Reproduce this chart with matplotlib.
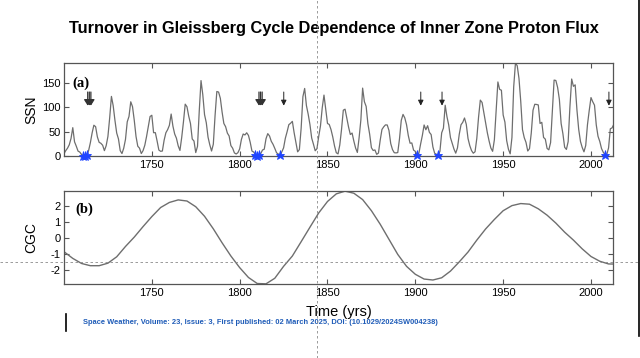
import matplotlib
matplotlib.use("Agg")
import matplotlib.pyplot as plt
from matplotlib.lines import Line2D

plt.rcParams['font.family'] = ['Liberation Sans', 'DejaVu Sans']
plt.rcParams['axes.unicode_minus'] = False

# ---------------- data ----------------
ssn_start_year = 1700
ssn_values = [
    5.0, 11.0, 16.0, 23.0, 36.0, 58.0, 29.0, 20.0, 10.0, 8.0,
    3.0, 0.0, 0.0, 2.0, 11.0, 27.0, 47.0, 63.0, 60.0, 39.0,
    28.0, 26.0, 22.0, 11.0, 21.0, 40.0, 78.0, 122.0, 103.0, 73.0,
    47.0, 35.0, 11.0, 5.0, 16.0, 34.0, 70.0, 81.0, 111.0, 101.0,
    73.0, 40.0, 20.0, 16.0, 5.0, 11.0, 22.0, 40.0, 60.0, 80.9,
    83.4, 47.7, 47.8, 30.7, 12.2, 9.6, 10.2, 32.4, 47.6, 54.0,
    62.9, 85.9, 61.2, 45.1, 36.4, 20.9, 11.4, 37.8, 69.8, 106.1,
    100.8, 81.6, 66.5, 34.8, 30.6, 7.0, 19.8, 92.5, 154.4, 125.9,
    84.8, 68.1, 38.5, 22.8, 10.2, 24.1, 82.9, 132.0, 130.9, 118.1,
    89.9, 66.6, 60.0, 46.9, 41.0, 21.3, 16.0, 6.4, 4.1, 6.8,
    14.5, 34.0, 45.0, 43.1, 47.5, 42.2, 28.1, 10.1, 8.1, 2.5,
    0.0, 1.4, 5.0, 12.2, 13.9, 35.4, 45.8, 41.0, 30.1, 23.9,
    15.6, 6.6, 4.0, 1.8, 8.5, 16.6, 36.3, 49.6, 64.2, 67.0,
    70.9, 47.8, 27.5, 8.5, 13.2, 56.9, 121.5, 138.3, 103.2, 85.7,
    64.6, 36.7, 24.2, 10.7, 15.0, 40.1, 61.5, 98.5, 124.7, 96.3,
    66.6, 64.5, 54.1, 39.0, 20.6, 6.7, 4.3, 22.7, 54.8, 93.8,
    95.8, 77.2, 59.1, 44.0, 47.0, 30.5, 16.3, 7.3, 37.6, 74.0,
    139.0, 111.2, 101.6, 66.2, 44.7, 17.0, 11.3, 12.4, 3.4, 6.0,
    32.3, 54.3, 59.7, 63.7, 63.5, 52.2, 25.4, 13.1, 6.8, 6.3,
    7.1, 35.6, 73.0, 85.1, 78.0, 64.0, 41.8, 26.2, 26.7, 12.1,
    9.5, 2.7, 5.0, 24.4, 42.0, 63.5, 53.8, 62.0, 48.5, 43.9,
    18.6, 5.7, 3.6, 1.4, 9.6, 47.4, 57.1, 103.9, 80.6, 63.6,
    37.6, 26.1, 14.2, 5.8, 16.7, 44.3, 63.9, 69.0, 77.8, 64.9,
    35.7, 21.2, 11.1, 5.7, 8.7, 36.1, 79.7, 114.4, 109.6, 88.8,
    67.8, 47.5, 30.6, 16.3, 9.6, 33.2, 92.6, 151.6, 136.3, 134.7,
    83.9, 69.4, 31.5, 13.9, 4.4, 38.0, 141.7, 190.2, 184.8, 159.0,
    112.3, 53.9, 37.6, 27.9, 10.2, 15.1, 47.0, 93.8, 105.9, 105.5,
    104.5, 66.6, 68.9, 38.0, 34.5, 15.5, 12.6, 27.5, 92.5, 155.4,
    154.6, 140.4, 115.9, 66.6, 45.9, 17.9, 13.4, 29.4, 100.2, 157.6,
    142.6, 145.7, 94.3, 54.6, 29.9, 17.5, 8.6, 21.5, 64.3, 93.3,
    119.6, 111.0, 104.0, 63.7, 40.4, 29.8, 15.2, 7.5, 2.9, 3.1,
    16.5, 55.7, 57.6, 64.7,
]
ssn_years = list(range(ssn_start_year, ssn_start_year + len(ssn_values)))

minimum_years = [1711, 1712, 1713, 1809, 1810, 1811, 1823, 1901, 1913, 2008]
triple_arrow_years = [1714.4, 1811.9]
single_arrow_years = [1825.1, 1903.1, 1915.2, 2010.2]

cgc_years = list(range(1700, 2020, 5))
cgc_values = [
    -0.88, -1.30, -1.62, -1.76, -1.76, -1.60, -1.20, -0.55, 0.04, 0.70,
    1.33, 1.90, 2.22, 2.38, 2.31, 1.95, 1.35, 0.56, -0.32, -1.15,
    -1.88, -2.50, -2.88, -2.90, -2.55, -1.80, -1.15, -0.25, 0.66, 1.56,
    2.28, 2.76, 2.93, 2.80, 2.40, 1.70, 0.85, -0.10, -1.05, -1.80,
    -2.30, -2.60, -2.66, -2.52, -2.10, -1.52, -0.90, -0.15, 0.55, 1.15,
    1.70, 2.02, 2.15, 2.11, 1.82, 1.42, 0.92, 0.35, -0.15, -0.70,
    -1.18, -1.48, -1.65, -1.66,
]

title = "Turnover in Gleissberg Cycle Dependence of Inner Zone Proton Flux"
footer = ("Space Weather, Volume: 23, Issue: 3, First published: 02 March 2025, "
          "DOI: (10.1029/2024SW004238)")
xticks = [1750, 1800, 1850, 1900, 1950, 2000]
ssn_ticks = [0, 50, 100, 150]
cgc_ticks = [-2, -1, 0, 1, 2]

# ---------------- figure ----------------
W, H = 640, 358
fig = plt.figure(figsize=(W / 100, H / 100), dpi=100)
fig.patch.set_facecolor('white')

def ax_rect(l, t, r, b):
    return [l / W, 1 - b / H, (r - l) / W, (b - t) / H]

ax1 = fig.add_axes(ax_rect(64, 62.7, 613.3, 156))
ax2 = fig.add_axes(ax_rect(64, 191, 613.3, 284.3))

line_col = '#6e6e6e'
spine_col = '#555555'

for ax in (ax1, ax2):
    ax.set_xlim(1700, 2012.7)
    ax.set_xticks(xticks)
    ax.tick_params(direction='in', top=True, right=True, length=3.5,
                   width=0.8, color=spine_col, labelsize=8, pad=3)
    ax.tick_params(axis='y', pad=2.5)
    for s in ax.spines.values():
        s.set_color(spine_col)
        s.set_linewidth(0.9)

# top panel
ax1.plot(ssn_years, ssn_values, color=line_col, lw=0.9, zorder=2)
ax1.set_ylim(0, 191)
ax1.set_yticks(ssn_ticks)
ax1.set_ylabel("SSN", fontsize=10)
ax1.yaxis.set_label_coords(-0.047, 0.5)
ymap = dict(zip(ssn_years, ssn_values))
ax1.plot(minimum_years, [ymap[y] for y in minimum_years], linestyle='none',
         marker='*', markersize=6.5, color='#1f44ff', markeredgewidth=0.6,
         clip_on=False, zorder=3)

arrow_top, arrow_bot = 131, 103
for yr in single_arrow_years:
    ax1.annotate('', xy=(yr, arrow_bot), xytext=(yr, arrow_top),
                 arrowprops=dict(arrowstyle='-|>,head_width=0.16,head_length=0.32',
                                 color='#222222', lw=0.7, shrinkA=0, shrinkB=0))
for yr in triple_arrow_years:
    for off in (-0.9, 0.0, 0.9):
        ax1.annotate('', xy=(yr + off, arrow_bot), xytext=(yr + off, arrow_top),
                     arrowprops=dict(arrowstyle='-|>,head_width=0.22,head_length=0.35',
                                     color='#333333', lw=0.9, shrinkA=0, shrinkB=0))

ax1.text(0.016, 0.78, "(a)", transform=ax1.transAxes, fontsize=10.5,
         fontweight='bold', family=['Liberation Serif', 'DejaVu Serif'],
         va='center', ha='left')

# bottom panel
ax2.plot(cgc_years, cgc_values, color=line_col, lw=1.0)
ax2.set_ylim(-2.93, 2.94)
ax2.set_yticks(cgc_ticks)
ax2.set_ylabel("CGC", fontsize=10)
ax2.yaxis.set_label_coords(-0.047, 0.5)
ax2.set_xlabel("Time (yrs)", fontsize=10.5, labelpad=5)
ax2.text(0.02, 0.80, "(b)", transform=ax2.transAxes, fontsize=10.5,
         fontweight='bold', family=['Liberation Serif', 'DejaVu Serif'],
         va='center', ha='left')

# title
fig.text(334 / W, 1 - 28 / H, title, fontsize=11.8, fontweight='bold',
         ha='center', va='center')

# footer
fig.text(83 / W, 1 - 322 / H, footer, fontsize=5.4, fontweight='bold',
         color='#1f5cb8', ha='left', va='center')
fig.add_artist(Line2D([66 / W, 66 / W], [1 - 314 / H, 1 - 331 / H],
                      color='black', lw=1.2))
# right edge line
fig.add_artist(Line2D([638.5 / W, 638.5 / W], [1.0, 1 - 336 / H],
                      color='black', lw=1.2))

# crosshair dashed lines
fig.add_artist(Line2D([316.7 / W, 316.7 / W], [0, 1], color='#8a8a8a',
                      lw=0.6, linestyle=(0, (3, 3)), zorder=10))
fig.add_artist(Line2D([0, 1], [1 - 262.3 / H, 1 - 262.3 / H], color='#8a8a8a',
                      lw=0.6, linestyle=(0, (3, 3)), zorder=10))

fig.savefig("out.png", dpi=100)
